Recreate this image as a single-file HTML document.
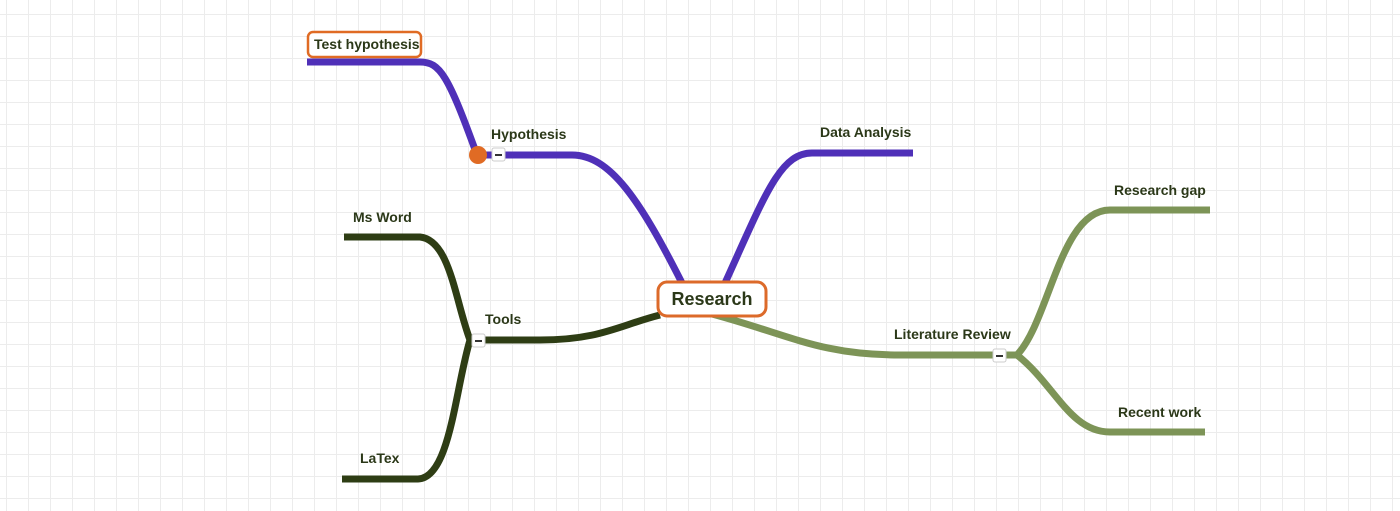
<!DOCTYPE html>
<html><head><meta charset="utf-8"><style>
html,body{margin:0;padding:0;background:#fff;}
svg{display:block;}
text{font-family:"Liberation Sans",sans-serif;font-weight:bold;fill:#2b3818;}
</style></head><body>
<svg width="1400" height="511" viewBox="0 0 1400 511" xmlns="http://www.w3.org/2000/svg">
<defs>
<pattern id="g" x="6" y="14" width="22" height="22" patternUnits="userSpaceOnUse">
<path d="M0 0H22M0 0V22" stroke="#ececec" stroke-width="2" fill="none"/>
</pattern>
</defs>
<rect width="1400" height="511" fill="#fff"/>
<rect width="1400" height="511" fill="url(#g)"/>
<g fill="none" stroke-linecap="butt">
<!-- purple -->
<g stroke="#4f30b8" stroke-width="7">
<path d="M307 62 H420 C440 62 448 75 477 155"/>
<path d="M477 155 H572 C610 155 640 200 682 283"/>
<path d="M725 283 C765 195 780 153 812 153 H913"/>
</g>
<!-- dark green -->
<g stroke="#2e3d14" stroke-width="7">
<path d="M470 340 H540 C600 340 620 325 660 315"/>
<path d="M344 237 H420 C450 240 455 300 470 340"/>
<path d="M342 479 H418 C450 478 455 390 470 340"/>
</g>
<!-- olive -->
<g stroke="#7d9457" stroke-width="7">
<path d="M712 314 C790 335 820 355 900 355 H1017"/>
<path d="M1017 355 C1050 320 1060 210 1110 210 H1210"/>
<path d="M1017 355 C1055 385 1070 432 1110 432 H1205"/>
</g>
</g>
<!-- collapse buttons -->
<g>
<rect x="492" y="148" width="13" height="13" rx="2" fill="#fff" stroke="#ccc"/>
<rect x="495" y="154" width="7" height="2" fill="#333"/>
<rect x="472" y="334" width="13" height="13" rx="2" fill="#fff" stroke="#ccc"/>
<rect x="475" y="340" width="7" height="2" fill="#333"/>
<rect x="993" y="349" width="13" height="13" rx="2" fill="#fff" stroke="#ccc"/>
<rect x="996" y="355" width="7" height="2" fill="#333"/>
</g>
<circle cx="478" cy="155" r="9" fill="#e06b24"/>
<!-- Test hypothesis box -->
<rect x="308" y="32" width="113" height="25" rx="5" fill="#fff" stroke="#e06b24" stroke-width="2.5"/>
<text x="314" y="49" font-size="14">Test hypothesis</text>
<!-- Research -->
<rect x="658" y="282" width="108" height="34" rx="9" fill="#fff" stroke="#dc6a2a" stroke-width="3"/>
<text x="712" y="305" font-size="18" text-anchor="middle">Research</text>
<text x="491" y="139" font-size="14">Hypothesis</text>
<text x="820" y="137" font-size="14">Data Analysis</text>
<text x="1114" y="195" font-size="14">Research gap</text>
<text x="894" y="339" font-size="14">Literature Review</text>
<text x="1118" y="417" font-size="14">Recent work</text>
<text x="353" y="222" font-size="14">Ms Word</text>
<text x="485" y="324" font-size="14">Tools</text>
<text x="360" y="463" font-size="14">LaTex</text>
</svg>
</body></html>
